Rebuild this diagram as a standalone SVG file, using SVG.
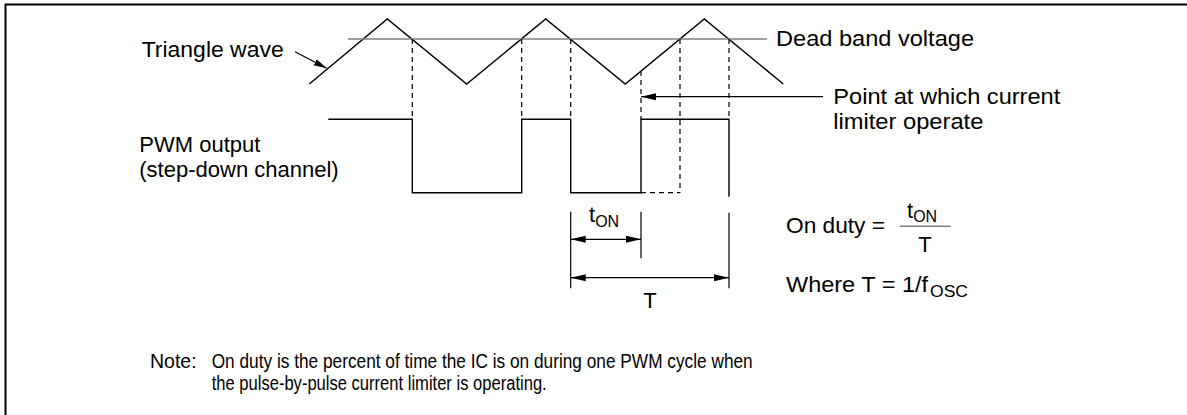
<svg xmlns="http://www.w3.org/2000/svg" width="1187" height="415" viewBox="0 0 1187 415">
<style>
text{font-family:"Liberation Sans",Arial,Helvetica,sans-serif;font-size:22px;fill:#000}
.sub{font-size:16px}
.note{font-size:19.5px}
.w{fill:none;stroke:#000;stroke-width:1.4}
.g{fill:none;stroke:#808080;stroke-width:1.4}
.d{fill:none;stroke:#000;stroke-width:1.2;stroke-dasharray:5 4}
.a{fill:none;stroke:#000;stroke-width:1.2}
</style>
<defs>
<marker id="ah" markerWidth="16" markerHeight="8" refX="15" refY="4" orient="auto-start-reverse" markerUnits="userSpaceOnUse"><path d="M0,0.5 L15,4 L0,7.5 z" fill="#000"/></marker>
<marker id="ahs" markerWidth="14" markerHeight="8" refX="13" refY="4" orient="auto" markerUnits="userSpaceOnUse"><path d="M0,0.5 L13,4 L0,7.5 z" fill="#000"/></marker>
</defs>
<rect width="1187" height="415" fill="#fff"/>
<path d="M5.5 415 V4.5 H1187" fill="none" stroke="#000" stroke-width="2"/>
<g id="triangle-wave">
<polyline class="w" points="309.3,84 387.3,19 466.7,84 545.7,19 625.3,84 704.3,19 783.3,84"/>
</g>
<g id="dead-band">
<line class="g" x1="348" y1="39" x2="767" y2="39"/>
</g>
<g id="pwm-output">
<polyline class="w" points="328.3,119.3 412.3,119.3 412.3,192.7 521.7,192.7 521.7,119.3 570.7,119.3 570.7,192.7 641,192.7 641,119.3 729,119.3 729,196.7"/>
</g>
<g id="connectors">
<line class="d" x1="412.3" y1="39" x2="412.3" y2="119"/>
<line class="d" x1="521.7" y1="39" x2="521.7" y2="119"/>
<line class="d" x1="570.7" y1="39" x2="570.7" y2="119"/>
<line class="d" x1="641" y1="71" x2="641" y2="119"/>
<line class="d" x1="680" y1="39" x2="680" y2="192.7"/>
<line class="d" x1="729" y1="39" x2="729" y2="119"/>
<line class="d" x1="641" y1="192.7" x2="680" y2="192.7"/>
<line class="a" x1="295" y1="51.7" x2="326.7" y2="68.3" marker-end="url(#ahs)"/>
<line class="a" x1="823" y1="96.7" x2="641" y2="96.7" marker-end="url(#ah)"/>
<line class="a" x1="570.7" y1="211.7" x2="570.7" y2="288.3"/>
<line class="a" x1="641" y1="211.7" x2="641" y2="258.3"/>
<line class="a" x1="729" y1="212.7" x2="729" y2="288.3"/>
<line class="a" x1="570.7" y1="239.3" x2="641" y2="239.3" marker-start="url(#ah)" marker-end="url(#ah)"/>
<line class="a" x1="570.7" y1="277.7" x2="729" y2="277.7" marker-start="url(#ah)" marker-end="url(#ah)"/>
<line class="g" x1="900" y1="226.3" x2="950.7" y2="226.3"/>
</g>
<g id="labels">
<text x="141.7" y="57.3" textLength="142" lengthAdjust="spacingAndGlyphs">Triangle wave</text>
<text x="776" y="45.7" textLength="198" lengthAdjust="spacingAndGlyphs">Dead band voltage</text>
<text x="833.3" y="103.5" textLength="227" lengthAdjust="spacingAndGlyphs">Point at which current</text>
<text x="833.3" y="129.3" textLength="150" lengthAdjust="spacingAndGlyphs">limiter operate</text>
<text x="139.3" y="151.7">PWM output</text>
<text x="139.3" y="177">(step-down channel)</text>
<text x="589" y="222.3">t<tspan class="sub" dy="5">ON</tspan></text>
<text x="650" y="308.3" text-anchor="middle">T</text>
<text x="786" y="233.3" textLength="99" lengthAdjust="spacingAndGlyphs">On duty =</text>
<text x="907" y="217.5">t<tspan class="sub" dy="4.5">ON</tspan></text>
<text x="925" y="252.3" text-anchor="middle">T</text>
<text x="786" y="291.7" textLength="142" lengthAdjust="spacingAndGlyphs">Where T = 1/f</text>
<text class="sub" x="930" y="297.2" textLength="38" lengthAdjust="spacingAndGlyphs">OSC</text>
<text class="note" x="150" y="368">Note:</text>
<text class="note" x="211.7" y="368" textLength="541" lengthAdjust="spacingAndGlyphs">On duty is the percent of time the IC is on during one PWM cycle when</text>
<text class="note" x="211.7" y="389.5" textLength="335" lengthAdjust="spacingAndGlyphs">the pulse-by-pulse current limiter is operating.</text>
</g>
</svg>
